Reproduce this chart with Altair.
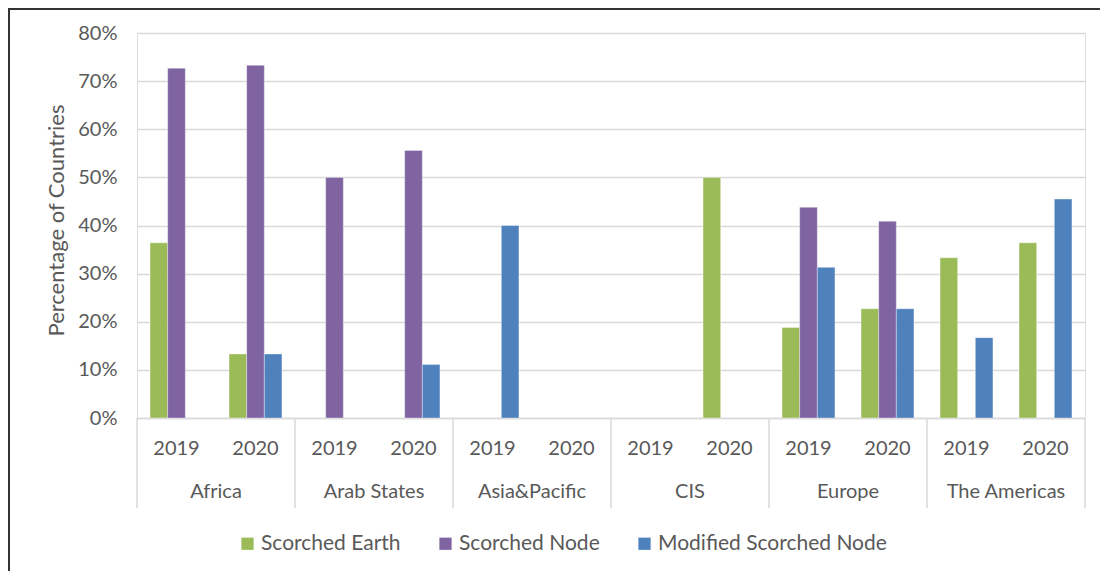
import altair as alt
import pandas as pd

regions = ["Africa", "Arab States", "Asia&Pacific", "CIS", "Europe", "The Americas"]
years = ["2019", "2020"]
series = ["Scorched Earth", "Scorched Node", "Modified Scorched Node"]
colors = ["#9BBB59", "#8064A2", "#4F81BD"]

# values in percent, order: region x year (Africa 2019, Africa 2020, Arab States 2019, ...)
scorched_earth = [36.4, 13.3, 0, 0, 0, 0, 0, 50.0, 18.8, 22.7, 33.3, 36.4]
scorched_node = [72.7, 73.3, 50.0, 55.6, 0, 0, 0, 0, 43.8, 40.9, 0, 0]
modified_node = [0, 13.3, 0, 11.1, 40.0, 0, 0, 0, 31.3, 22.7, 16.7, 45.5]

keys = [f"{r}|{y}" for r in regions for y in years]
rows = []
for s, vals in zip(series, [scorched_earth, scorched_node, modified_node]):
    for k, v in zip(keys, vals):
        if v > 0:
            rows.append({"key": k, "series": s, "value": v / 100})
df = pd.DataFrame(rows)

FONT = "Lato"
TXT = "#595959"
GRID = "#d9d9d9"
W, H = 948, 385

xscale = alt.Scale(domain=keys, paddingInner=0, paddingOuter=0)

bars = alt.Chart(df).mark_bar(stroke="white", strokeWidth=0.6, strokeOpacity=0.6).encode(
    x=alt.X("key:N", scale=xscale, sort=keys,
            axis=alt.Axis(title=None, labelExpr="split(datum.label,'|')[1]", labelAngle=0,
                          ticks=False, domainColor=GRID, domainWidth=1.5, labelPadding=30,
                          labelFontSize=20, labelFont=FONT, labelColor=TXT, grid=False,
                          labelBaseline="middle")),
    xOffset=alt.XOffset("series:N", scale=alt.Scale(domain=series, paddingInner=0, paddingOuter=0.74)),
    y=alt.Y("value:Q", scale=alt.Scale(domain=[0, 0.8], nice=False),
            axis=alt.Axis(format=".0%", values=[i / 10 for i in range(9)], title="Percentage of Countries",
                          titleFont=FONT, titleFontSize=22, titleFontWeight="normal", titleColor=TXT,
                          labelFont=FONT, labelFontSize=20, labelColor=TXT, labelPadding=20,
                          ticks=False, domain=False, gridColor=GRID, gridWidth=1.5,
                          titleX=-81, titleY=187, titleBaseline="middle")),
    color=alt.Color("series:N", scale=alt.Scale(domain=series, range=colors),
                    legend=alt.Legend(title=None, orient="none", direction="horizontal",
                                      legendX=100, legendY=500, symbolType="square", symbolSize=150,
                                      symbolStrokeWidth=0, labelFont=FONT, labelFontSize=21,
                                      labelColor=TXT, columnPadding=34, labelOffset=3, labelLimit=0)),
)

div_keys = [f"{r}|2019" for r in regions]
divs = alt.Chart(pd.DataFrame({"key": div_keys})).mark_rule(color=GRID, strokeWidth=1.5).encode(
    x=alt.X("key:N", scale=xscale, bandPosition=0),
    y=alt.value(H), y2=alt.value(H + 90))
div_end = alt.Chart(pd.DataFrame({"key": [keys[-1]]})).mark_rule(color=GRID, strokeWidth=1.5).encode(
    x=alt.X("key:N", scale=xscale, bandPosition=1),
    y=alt.value(H), y2=alt.value(H + 90))

reg_labels = alt.Chart(pd.DataFrame({"key": div_keys, "region": regions})).mark_text(
    font=FONT, fontSize=20, color=TXT, baseline="middle").encode(
    x=alt.X("key:N", scale=xscale, bandPosition=1),
    y=alt.value(H + 74), text="region:N")

border_left = alt.Chart(alt.Data(values=[{"a": 1}])).mark_rule(color="#333333", strokeWidth=2).encode(
    x=alt.value(-128), y=alt.value(-24), y2=alt.value(H + 160))
border_top = alt.Chart(alt.Data(values=[{"a": 1}])).mark_rule(color="#333333", strokeWidth=2).encode(
    x=alt.value(-129), x2=alt.value(W + 20), y=alt.value(-24))

chart = alt.layer(bars, divs, div_end, reg_labels, border_left, border_top).properties(
    width=W, height=H,
    autosize=alt.AutoSizeParams(type="none"),
    padding={"left": 129, "top": 25, "right": 15, "bottom": 153},
).configure_view(stroke=None).configure(background="white")

chart.save("out.html", embed_options={"renderer": "svg", "actions": False})
